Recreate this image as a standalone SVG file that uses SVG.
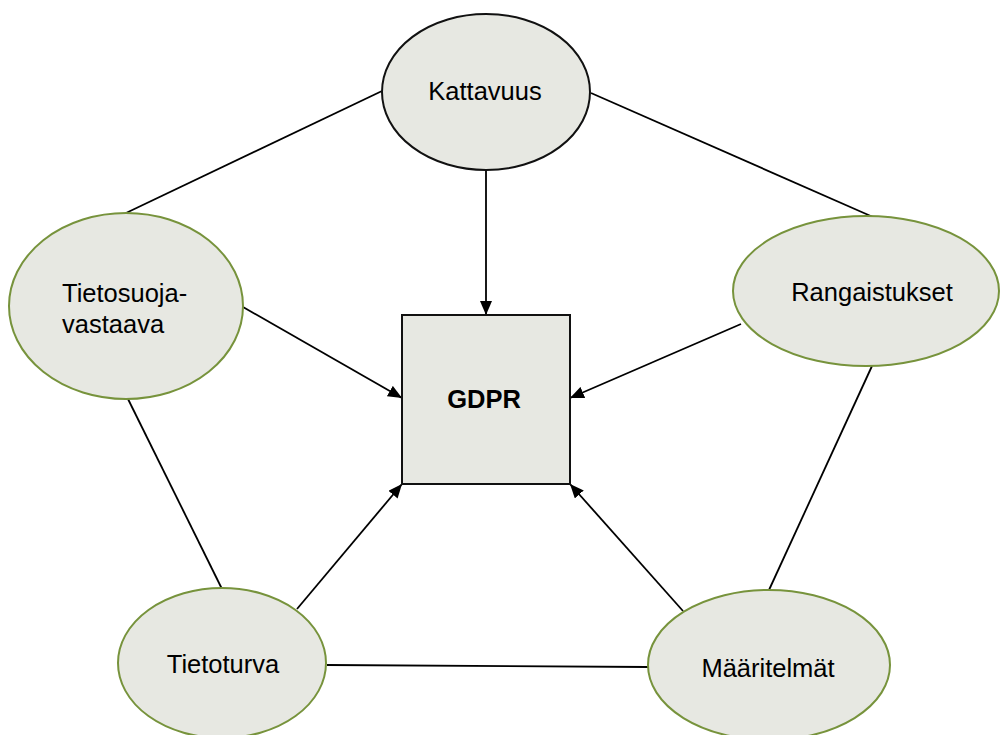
<svg xmlns="http://www.w3.org/2000/svg" width="1001" height="735" viewBox="0 0 1001 735">
  <style>
    .node { fill: #e7e8e2; stroke-width: 2; }
    .green { stroke: #77933c; }
    .dark { stroke: #111; }
    .label { font-family: "Liberation Sans", Arial, sans-serif; font-size: 25.5px; fill: #000; }
    .bold { font-weight: bold; }
    .link { stroke: #000; stroke-width: 1.8; fill: none; }
  </style>
  <defs>
    <marker id="arrow" markerUnits="userSpaceOnUse" markerWidth="14" markerHeight="12" refX="14" refY="6" orient="auto">
      <path d="M0,0 L14,6 L0,12 Z" fill="#000"/>
    </marker>
  </defs>
  <rect width="1001" height="735" fill="#fff"/>

  <g id="connectors">
    <line class="link" x1="382" y1="91" x2="126" y2="213"/>
    <line class="link" x1="591" y1="93" x2="873" y2="217"/>
    <line class="link" x1="128" y1="399" x2="222" y2="589"/>
    <line class="link" x1="872" y1="366" x2="769" y2="590"/>
    <line class="link" x1="327" y1="665" x2="648" y2="667"/>
    <line class="link" x1="486" y1="170" x2="486" y2="315" marker-end="url(#arrow)"/>
    <line class="link" x1="243" y1="307" x2="402" y2="398" marker-end="url(#arrow)"/>
    <line class="link" x1="741" y1="324" x2="570" y2="398" marker-end="url(#arrow)"/>
    <line class="link" x1="297" y1="609" x2="402" y2="484" marker-end="url(#arrow)"/>
    <line class="link" x1="683" y1="611" x2="570" y2="484" marker-end="url(#arrow)"/>
  </g>

  <g id="gdpr">
    <rect class="node dark" x="402" y="315" width="168" height="169"/>
    <text class="label bold" x="484" y="408" text-anchor="middle">GDPR</text>
  </g>

  <g id="kattavuus">
    <ellipse class="node dark" cx="486" cy="92" rx="104" ry="78"/>
    <text class="label" x="485" y="100" text-anchor="middle">Kattavuus</text>
  </g>

  <g id="tietosuojavastaava">
    <ellipse class="node green" cx="126" cy="306" rx="117" ry="93"/>
    <text class="label" x="62" y="302">Tietosuoja-</text>
    <text class="label" x="62" y="333">vastaava</text>
  </g>

  <g id="rangaistukset">
    <ellipse class="node green" cx="866" cy="291" rx="133" ry="75"/>
    <text class="label" x="872" y="301" text-anchor="middle">Rangaistukset</text>
  </g>

  <g id="tietoturva">
    <ellipse class="node green" cx="222" cy="663" rx="104" ry="75"/>
    <text class="label" x="223" y="673" text-anchor="middle">Tietoturva</text>
  </g>

  <g id="maaritelmat">
    <ellipse class="node green" cx="769" cy="665" rx="121" ry="75"/>
    <text class="label" x="768" y="677" text-anchor="middle">Määritelmät</text>
  </g>
</svg>
